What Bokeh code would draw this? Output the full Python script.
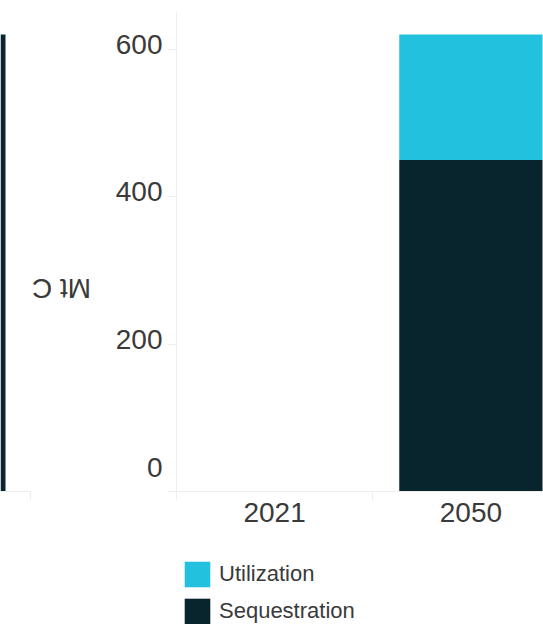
import math
from bokeh.plotting import figure
from bokeh.layouts import row, column
from bokeh.models import (Range1d, FixedTicker, Legend, LegendItem, ColumnDataSource)
from bokeh.core.properties import value
from bokeh.embed import file_html
from bokeh.resources import INLINE

# ---- data ----
years = ["2021", "2050"]
sequestration = [0, 450]
utilization = [0, 170]
# partially visible neighbouring panel on the far left
left_panel_sequestration = [0, 620]

y_ticks = [0, 200, 400, 600]
y_tick_labels = ["0", "200", "400", "600"]
y_axis_title = "Mt C"
series_names = ["Sequestration", "Utilization"]
legend_order = ["Utilization", "Sequestration"]
colors = {"Sequestration": "#08242d", "Utilization": "#22c2df"}

FONT = "Liberation Sans"
TXT = "#3a3a3a"
AXC = "#eeeeee"
BAR_W = 0.73
H = 546
TOP = 12
BOTTOM = 55

xpos = [i + 0.5 for i in range(len(years))]
y_rng = Range1d(0, 650)


def base(width, x_range, **kw):
    f = figure(width=width, height=H, x_range=x_range, y_range=y_rng,
               output_backend="svg", toolbar_location=None,
               min_border_top=TOP, min_border_bottom=BOTTOM, min_border_right=0, **kw)
    f.grid.visible = False
    f.outline_line_color = None
    return f


# ---- left (cut-off) panel ----
left = base(31, Range1d(1.838, 2.0056), y_axis_location=None, min_border_left=0)
left.vbar(x=xpos, top=left_panel_sequestration, width=BAR_W,
          color=colors["Sequestration"], line_color=None)
left.xaxis.ticker = FixedTicker(ticks=[], minor_ticks=list(range(len(years) + 1)))
left.xaxis.axis_line_color = AXC
left.xaxis.minor_tick_line_color = AXC
left.xaxis.minor_tick_in = 0
left.xaxis.minor_tick_out = 9
left.xaxis.major_tick_line_color = None

# ---- y tick labels + axis title panel ----
mid = base(136, Range1d(-136, 0), x_axis_location=None, y_axis_location=None, min_border_left=0)
mid.text(x=[0] * len(y_ticks), y=y_ticks, text=y_tick_labels,
         x_offset=-5, y_offset=[-24 if t == y_ticks[0] else -5 for t in y_ticks],
         text_align="right", text_baseline="middle",
         text_font=value(FONT), text_font_size="28px", text_color=TXT)
mid.text(x=[0], y=[0], text=[y_axis_title], x_offset=-106, y_offset=-203, angle=math.pi,
         text_align="center", text_baseline="middle",
         text_font=value(FONT), text_font_size="28px", text_color=TXT)

# ---- main panel ----
p = base(376, Range1d(0, 1.87), min_border_left=9)
src = ColumnDataSource(dict(x=xpos, Sequestration=sequestration, Utilization=utilization))
rs = p.vbar_stack(series_names, x="x", width=BAR_W, source=src,
                  color=[colors[n] for n in series_names], line_color=None)

p.xaxis.ticker = FixedTicker(ticks=xpos, minor_ticks=list(range(len(years) + 1)))
p.xaxis.major_label_overrides = {xv: y for xv, y in zip(xpos, years)}
p.xaxis.major_tick_line_color = None
p.xaxis.minor_tick_line_color = AXC
p.xaxis.minor_tick_in = 0
p.xaxis.minor_tick_out = 9
p.xaxis.major_tick_out = 9
p.xaxis.axis_line_color = AXC
p.xaxis.major_label_standoff = 2
p.xaxis.major_label_text_font = FONT
p.xaxis.major_label_text_font_size = "28px"
p.xaxis.major_label_text_color = TXT

p.yaxis.ticker = FixedTicker(ticks=y_ticks)
p.yaxis.axis_line_color = AXC
p.yaxis.major_tick_line_color = AXC
p.yaxis.major_tick_in = 0
p.yaxis.major_tick_out = 9
p.yaxis.minor_tick_line_color = None
p.yaxis.major_label_standoff = 0
p.yaxis.major_label_overrides = {t: "" for t in y_ticks}
p.yaxis.major_label_text_font_size = "0px"

# ---- legend strip (same stacked series, view range placed away from the bars) ----
leg = figure(width=543, height=78, x_range=Range1d(-3, -2), y_range=Range1d(0, 1),
             output_backend="svg", toolbar_location=None,
             x_axis_location=None, y_axis_location=None,
             min_border_left=0, min_border_right=0, min_border_top=0, min_border_bottom=0)
leg.grid.visible = False
leg.outline_line_color = None
lrs = leg.vbar_stack(series_names, x="x", width=BAR_W, source=src,
                     color=[colors[n] for n in series_names], line_color=None)
swatch = dict(zip(series_names, lrs))
legend = Legend(items=[LegendItem(label=n, renderers=[swatch[n]]) for n in legend_order],
                location=(181, -3), orientation="vertical", padding=0, margin=0,
                border_line_color=None, background_fill_alpha=0,
                glyph_width=32, glyph_height=32, label_standoff=6, spacing=5,
                label_height=32, label_text_font=FONT, label_text_font_size="22px",
                label_text_color=TXT, label_text_baseline="middle")
leg.add_layout(legend)

layout = column(row(left, mid, p, spacing=0), leg, spacing=0)
open("out.html", "w").write(file_html(layout, INLINE))
